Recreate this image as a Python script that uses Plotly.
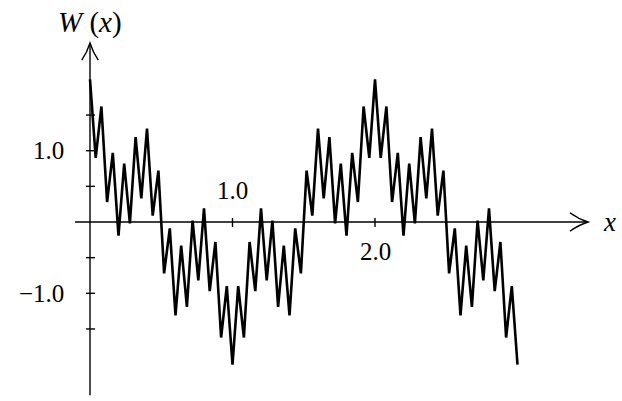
import plotly.graph_objects as go

# Sample positions (turning points of the zig-zag)
x_vals = [0.00, 0.04, 0.08, 0.12, 0.16, 0.20, 0.24, 0.28, 0.32, 0.36,
          0.40, 0.44, 0.48, 0.52, 0.56, 0.60, 0.64, 0.68, 0.72, 0.76,
          0.80, 0.84, 0.88, 0.92, 0.96, 1.00, 1.04, 1.08, 1.12, 1.16,
          1.20, 1.24, 1.28, 1.32, 1.36, 1.40, 1.44, 1.48, 1.52, 1.56,
          1.60, 1.64, 1.68, 1.72, 1.76, 1.80, 1.84, 1.88, 1.92, 1.96,
          2.00, 2.04, 2.08, 2.12, 2.16, 2.20, 2.24, 2.28, 2.32, 2.36,
          2.40, 2.44, 2.48, 2.52, 2.56, 2.60, 2.64, 2.68, 2.72, 2.76,
          2.80, 2.84, 2.88, 2.92, 2.96, 3.00]

w_vals = [2.00, 0.90, 1.62, 0.28, 0.97, -0.19, 0.82, -0.02, 1.19, 0.33,
          1.31, 0.09, 0.72, -0.72, -0.09, -1.31, -0.33, -1.19, 0.02, -0.82,
          0.19, -0.97, -0.28, -1.62, -0.90, -2.00, -0.90, -1.62, -0.28, -0.97,
          0.19, -0.82, 0.02, -1.19, -0.33, -1.31, -0.09, -0.72, 0.72, 0.09,
          1.31, 0.33, 1.19, -0.02, 0.82, -0.19, 0.97, 0.28, 1.62, 0.90,
          2.00, 0.90, 1.62, 0.28, 0.97, -0.19, 0.82, -0.02, 1.19, 0.33,
          1.31, 0.09, 0.72, -0.72, -0.09, -1.31, -0.33, -1.19, 0.02, -0.82,
          0.19, -0.97, -0.28, -1.62, -0.90, -2.00]

y_ticks = [-1.5, -1.0, -0.5, 0.5, 1.0, 1.5]
y_tick_labels = {1.0: "1.0", -1.0: "\u22121.0"}
x_ticks = [1.0, 2.0]
x_tick_labels = {1.0: "1.0", 2.0: "2.0"}

FONT = "Liberation Serif"
fig = go.Figure()
fig.add_trace(go.Scatter(x=x_vals, y=w_vals, mode="lines",
                         line=dict(color="black", width=2.6),
                         hoverinfo="skip", showlegend=False))

shapes = []
ln = dict(color="black", width=1.4)
# axes
shapes.append(dict(type="line", x0=0, x1=0, y0=-2.43, y1=2.50, line=ln))
shapes.append(dict(type="line", x0=-0.105, x1=3.49, y0=0, y1=0, line=ln))
# arrow heads (open V)
shapes.append(dict(type="path", path="M -0.058,2.27 Q -0.02,2.38 0,2.51 Q 0.02,2.38 0.058,2.27", line=ln))
shapes.append(dict(type="path", path="M 3.368,0.13 Q 3.43,0.04 3.495,0 Q 3.43,-0.04 3.368,-0.13", line=ln))
for yt in y_ticks:
    shapes.append(dict(type="line", x0=-0.028, x1=0.035, y0=yt, y1=yt, line=ln))
for xt in x_ticks:
    shapes.append(dict(type="line", x0=xt, x1=xt, y0=0.056, y1=-0.07, line=ln))

ann = []
for yt, t in y_tick_labels.items():
    ann.append(dict(x=-0.165, y=yt, text=t, xanchor="right", yanchor="middle",
                    showarrow=False, font=dict(family=FONT, size=25, color="black")))
ann.append(dict(x=1.0, y=0.44, text=x_tick_labels[1.0], xanchor="center", yanchor="middle",
                showarrow=False, font=dict(family=FONT, size=25, color="black")))
ann.append(dict(x=2.0, y=-0.42, text=x_tick_labels[2.0], xanchor="center", yanchor="middle",
                showarrow=False, font=dict(family=FONT, size=25, color="black")))
ann.append(dict(x=0.0, y=2.80, text="<i>W</i> (<i>x</i>)", xanchor="center", yanchor="middle",
                showarrow=False, font=dict(family=FONT, size=29, color="black")))
ann.append(dict(x=3.645, y=0.0, text="<i>x</i>", xanchor="center", yanchor="middle",
                showarrow=False, font=dict(family=FONT, size=27, color="black")))

fig.update_layout(
    width=622, height=401, autosize=False,
    margin=dict(l=0, r=0, t=0, b=0),
    paper_bgcolor="white", plot_bgcolor="white",
    xaxis=dict(range=[-90/142.5, 532/142.5], visible=False, fixedrange=True),
    yaxis=dict(range=[(222-401)/71.3, 222/71.3], visible=False, fixedrange=True),
    shapes=shapes, annotations=ann,
)
fig.write_html("out.html", config={"displayModeBar": False},
               post_script="document.body.style.margin='0';document.body.style.overflow='hidden';")
